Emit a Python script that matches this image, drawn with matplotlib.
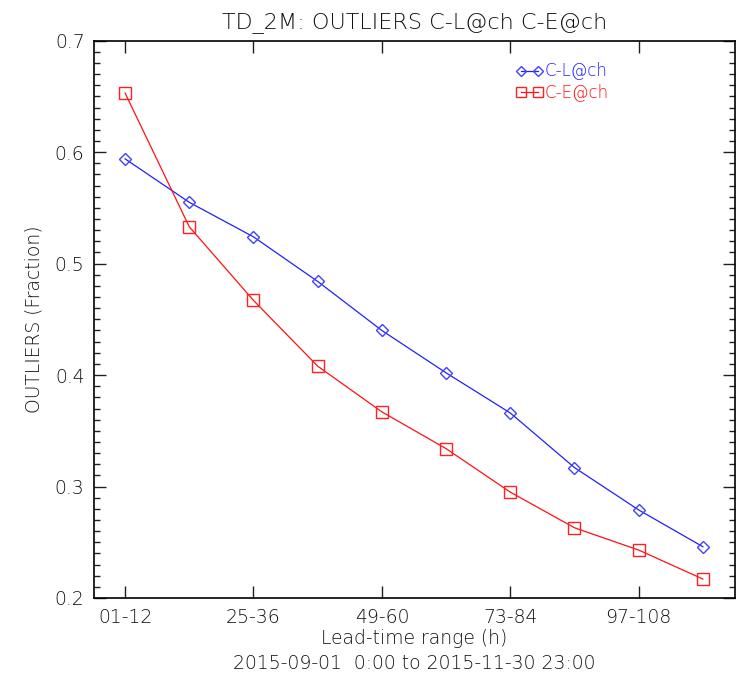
import numpy as np
import matplotlib
matplotlib.use('Agg')
import matplotlib.pyplot as plt
from matplotlib.ticker import MultipleLocator

# lead-time bins (10 bins of 12 h), only every other one is labelled
positions = np.arange(1, 11)
tick_pos = [1, 3, 5, 7, 9]
tick_labels = ['01-12', '25-36', '49-60', '73-84', '97-108']

# outlier fractions
cl_ach = [0.594, 0.555, 0.524, 0.484, 0.440, 0.402, 0.366, 0.317, 0.279, 0.246]
ce_ach = [0.653, 0.533, 0.467, 0.408, 0.367, 0.334, 0.295, 0.263, 0.243, 0.217]

plt.rcParams['font.weight'] = 'light'
plt.rcParams['axes.titleweight'] = 'light'
plt.rcParams['axes.labelweight'] = 'light'

fig = plt.figure(figsize=(7.40, 6.77), dpi=100)
ax = fig.add_axes([0.1274, 0.1167, 0.8658, 0.8232])

ax.plot(positions, cl_ach, color='#2020ff', lw=0.9, marker='D', ms=6.5,
        mfc='none', mec='#4040ff', mew=1.0, label='C-L@ch')
ax.plot(positions, ce_ach, color='#ff1010', lw=0.9, marker='s', ms=8.5,
        mfc='none', mec='#ff2020', mew=1.0, label='C-E@ch')

ax.set_xlim(0.52, 10.5)
ax.set_ylim(0.2, 0.7)
ax.set_xticks(tick_pos)
ax.set_xticklabels(tick_labels)
ax.yaxis.set_major_locator(MultipleLocator(0.1))
ax.yaxis.set_minor_locator(MultipleLocator(0.01))
ax.tick_params(which='both', direction='in', top=True, right=True,
               labelsize=13.5, labelcolor='#111111', width=1.0, color='#202020')
ax.tick_params(which='major', length=8.5, pad=7)
ax.tick_params(which='minor', length=4.5)
ax.tick_params(axis='x', which='minor', bottom=False, top=False)
for sp in ax.spines.values():
    sp.set_linewidth(1.2)

ax.set_title('TD_2M: OUTLIERS C-L@ch C-E@ch', fontsize=16, pad=9, color='#111111')
ax.set_ylabel('OUTLIERS (Fraction)', fontsize=13.5, labelpad=8, color='#111111')
ax.set_xlabel('Lead-time range (h)\n2015-09-01  0:00 to 2015-11-30 23:00',
              fontsize=13.5, labelpad=2, linespacing=1.35, color='#111111')

leg = ax.legend(loc='upper left', bbox_to_anchor=(0.648, 0.973), frameon=False,
                fontsize=12, numpoints=2, handlelength=1.6, handletextpad=0.1,
                labelspacing=0.2, borderaxespad=0, markerscale=0.85)
for txt, c in zip(leg.get_texts(), ['#2020ff', '#ff1010']):
    txt.set_color(c)

fig.savefig('out.png', dpi=100)
